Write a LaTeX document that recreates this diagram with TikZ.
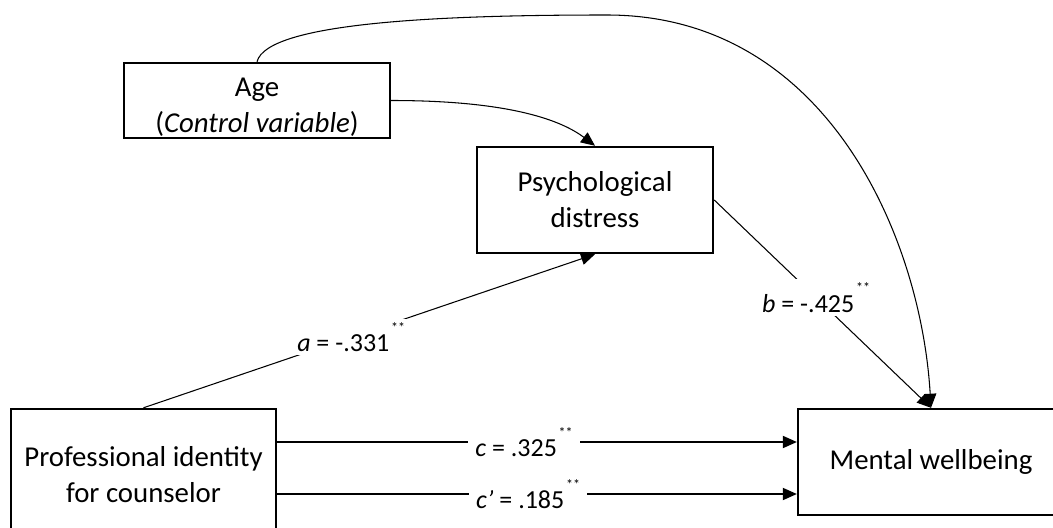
\documentclass[tikz,border=0pt]{standalone}
\usepackage{fontspec}
\setmainfont{Carlito}
\usepackage{tikz}
\usetikzlibrary{arrows.meta}
\newcommand{\boxtextsize}{\fontsize{16.4}{20.4}\selectfont}
\newcommand{\coeftextsize}{\fontsize{14.8}{17}\selectfont}
\newcommand{\sigmark}{\kern1pt\raisebox{11pt}{\fontsize{8}{8}\selectfont **}}
\tikzstyle{varbox}=[draw, line width=1.4pt, align=center, inner sep=0, font=\boxtextsize]
\tikzstyle{effect}=[line width=0.6pt, -{Triangle[length=8pt, width=7pt]}]
\tikzstyle{coef}=[fill=white, inner xsep=4pt, inner ysep=2pt, font=\coeftextsize]

\begin{document}
\begin{tikzpicture}[x=0.02cm, y=-0.02cm]
    \useasboundingbox (0,0) rectangle (1053,527);
    % variables
    \node[varbox, minimum width=5.32cm, minimum height=1.5cm] (age) at (257,100.5) {\rule{0pt}{18pt}Age\\(\textit{Control variable})};
    \node[varbox, minimum width=4.72cm, minimum height=2.12cm] (psych) at (595,200) {Psychological\\distress};
    \node[varbox, minimum width=5.3cm, minimum height=2.64cm] (prof) at (143.5,475) {Professional identity\\for counselor};
    \node[varbox, minimum width=5.32cm, minimum height=2.12cm] (mw) at (931,462) {Mental wellbeing};
    \coordinate (cy) at (0,442);
    \coordinate (cpy) at (0,494);
    \coordinate (arc) at (607,15);
    % paths
    \draw[effect] (prof.north) -- node[coef, pos=0.46] {\textit{a} = -.331\sigmark} (psych.south);
    \draw[effect] (psych.east) -- node[coef, pos=0.47] {\textit{b} = -.425\sigmark} (mw.north);
    \draw[effect] (prof.east |- cy) -- node[coef, pos=0.475] {\textit{c} = .325\sigmark} (mw.west |- cy);
    \draw[effect] (prof.east |- cpy) -- node[coef, pos=0.483] {\textit{c\char"0027} = .185\sigmark} (mw.west |- cpy);
    % control variable
    \draw[effect] (age.east) .. controls +(120,0) and +(-33,-25) .. (psych.north);
    \draw[effect] (age.north) .. controls +(10,-40) and +(-160,0) .. (arc)
        .. controls +(220,0) and +(-10,-170) .. (mw.north);
\end{tikzpicture}
\end{document}
